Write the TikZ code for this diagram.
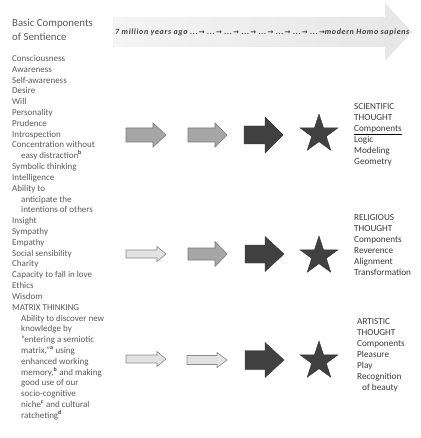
\documentclass[tikz,border=0pt]{standalone}
\usepackage{fontspec}
\setmainfont{Carlito}
\newfontfamily\arrowfont{DejaVu Sans}
\newfontfamily\bannerfont[LetterSpace=8]{Carlito}
\usetikzlibrary{shapes.geometric}
\definecolor{lefttxt}{HTML}{5A5A5A}
\definecolor{righttxt}{HTML}{3A3A3A}
\definecolor{darkfill}{HTML}{404040}
\definecolor{midfill}{HTML}{A6A6A6}
\definecolor{midline}{HTML}{7A7A7A}
\definecolor{lightfill}{HTML}{E2E2E2}
\definecolor{lightline}{HTML}{8A8A8A}
\definecolor{bannerA}{HTML}{F4F4F4}
\definecolor{bannerB}{HTML}{E6E6E6}
\newcommand\arr{{\arrowfont\fontsize{7}{8}\selectfont\,→}}
\newcommand\sups[1]{\textsuperscript{\color{black}#1}}
\newcommand\blockarr[7]{%
  \filldraw[#1] (#2,#5-#6) -- (#3,#5-#6) -- (#3,#5-#7) -- (#4,#5) -- (#3,#5+#7) -- (#3,#5+#6) -- (#2,#5+#6) -- cycle;}
\tikzset{
  midarrow/.style={fill=midfill,draw=midline,line width=0.6pt,line join=miter},
  lightarrow/.style={fill=lightfill,draw=lightline,line width=0.6pt,line join=miter},
  darkarrow/.style={fill=darkfill,draw=darkfill!80!black,line width=0.4pt,line join=miter},
  starshape/.style={star,star points=5,star point ratio=2.6,minimum size=40pt,inner sep=0pt,fill=darkfill,draw=darkfill!80!black,line width=0.4pt},
  lefttext/.style={anchor=north west,inner sep=0pt,align=left,text=lefttxt,font=\fontsize{9}{10.82}\selectfont},
  titletext/.style={anchor=north west,inner sep=0pt,align=left,text=lefttxt,font=\fontsize{10.8}{14}\selectfont},
  righttext/.style={anchor=north west,inner sep=0pt,align=left,text=righttxt,font=\fontsize{9.2}{11.1}\selectfont},
  bannertext/.style={anchor=base west,inner sep=0pt,text=darkfill,font=\bannerfont\fontsize{8}{10}\selectfont\bfseries\itshape}
}
\begin{document}
\begin{tikzpicture}[x=1pt,y=-1pt]
\useasboundingbox (0,0) rectangle (420,438);
\fill[white] (0,0) rectangle (420,438);
% banner
\shade[left color=bannerA,right color=bannerB] (113,17) -- (385,17) -- (385,3) -- (412,32) -- (385,61) -- (385,47) -- (113,47) -- cycle;
\node[bannertext] (time) at (115,35) {7 million years ago ...\arr\ ...\arr\ ...\arr\ ...\arr\ ...\arr\ ...\arr\ ...\arr\ ...\arr modern Homo sapiens};
% left column
\node[titletext] (title) at (12,19) {Basic Components\\of Sentience};
\node[lefttext] (list) at (12,55) {Consciousness\\
Awareness\\
Self-awareness\\
Desire\\
Will\\
Personality\\
Prudence\\
Introspection\\
Concentration without\\
\hspace*{9pt}easy distraction\sups{b}\\
Symbolic thinking\\
Intelligence\\
Ability to\\
\hspace*{9pt}anticipate the\\
\hspace*{9pt}intentions of others\\
Insight\\
Sympathy\\
Empathy\\
Social sensibility\\
Charity\\
Capacity to fall in love\\
Ethics\\
Wisdom\\
MATRIX THINKING\\
\hspace*{9pt}Ability to discover new\\
\hspace*{9pt}knowledge by\\
\hspace*{9pt}"entering a semiotic\\
\hspace*{9pt}matrix,"\sups{a} using\\
\hspace*{9pt}enhanced working\\
\hspace*{9pt}memory,\sups{b} and making\\
\hspace*{9pt}good use of our\\
\hspace*{9pt}socio-cognitive\\
\hspace*{9pt}niche\sups{c} and cultural\\
\hspace*{9pt}ratcheting\sups{d}};
% row 1
\blockarr{midarrow}{126}{153}{166}{135}{7}{12}
\blockarr{midarrow}{188}{215}{227}{135}{7}{12}
\blockarr{darkarrow}{244}{265}{283}{135}{9}{18}
\node[starshape] (star1) at (319,134) {};
\node[righttext] (sci) at (354,103) {SCIENTIFIC\\THOUGHT\\{\color{black}\underline{\color{righttxt}Components}}\\Logic\\Modeling\\Geometry};
% row 2
\blockarr{lightarrow}{126}{157}{166}{254}{4}{7.5}
\blockarr{midarrow}{188}{215}{227}{254}{6}{12.5}
\blockarr{darkarrow}{245}{265}{284}{254}{9}{17.5}
\node[starshape] (star2) at (319,256) {};
\node[righttext] (rel) at (354,214) {RELIGIOUS\\THOUGHT\\Components\\Reverence\\Alignment\\Transformation};
% row 3
\blockarr{lightarrow}{126}{157}{166}{359}{4}{7.5}
\blockarr{lightarrow}{187}{217}{227}{360}{4.5}{7.5}
\blockarr{darkarrow}{245}{265}{284}{360}{9.5}{17.5}
\node[starshape] (star3) at (319,361) {};
\node[righttext] (art) at (357,318) {ARTISTIC\\THOUGHT\\Components\\Pleasure\\Play\\Recognition\\\hspace*{5pt}of beauty};
\end{tikzpicture}
\end{document}
